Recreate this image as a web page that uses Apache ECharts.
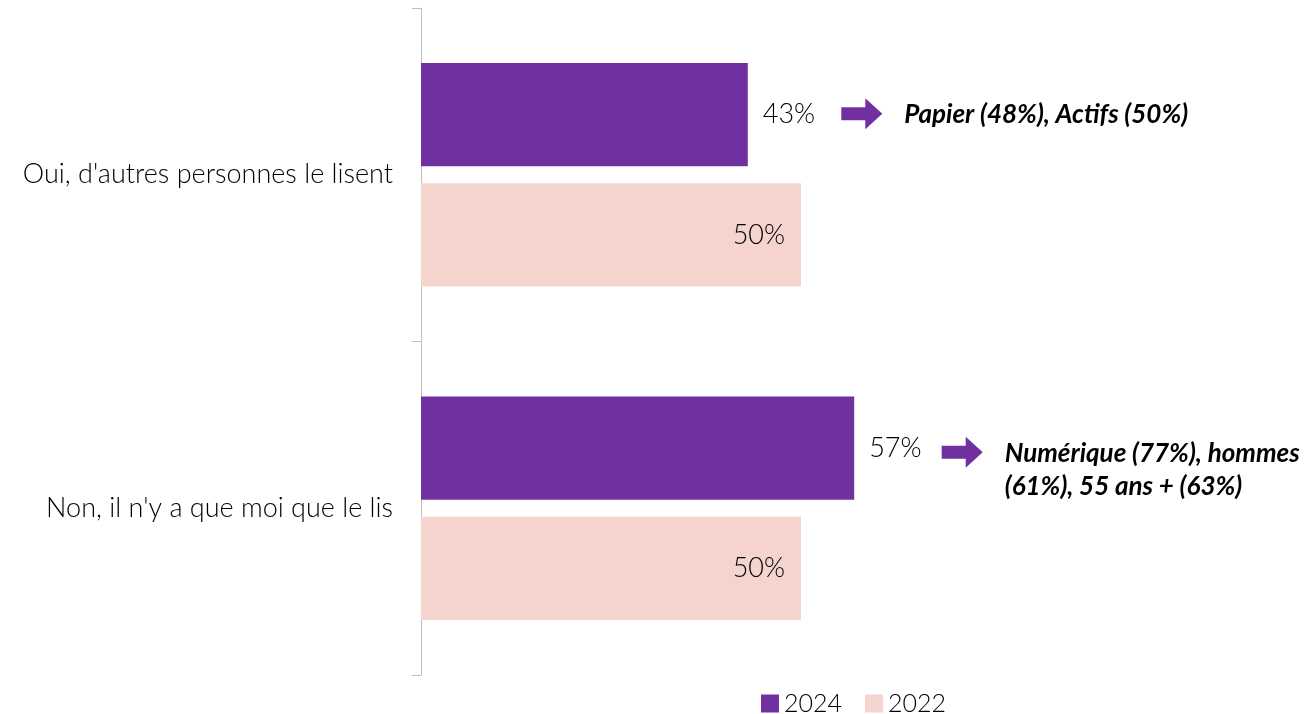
<!DOCTYPE html>
<html>
<head>
<meta charset="utf-8">
<script src="https://cdn.jsdelivr.net/npm/echarts@6/dist/echarts.min.js"></script>
<style>html,body{margin:0;padding:0;background:#fff}#c{width:1309px;height:714px}</style>
</head>
<body>
<div id="c"></div>
<script>
const categories = ["Oui, d'autres personnes le lisent", "Non, il n'y a que moi que le lis"];
const values2024 = [43, 57];
const values2022 = [50, 50];
const seriesNames = ["2024", "2022"];
const notes2024 = ["Papier (48%), Actifs (50%)", "Numérique (77%), hommes\n(61%), 55 ans + (63%)"];

const FONT = 'Lato';
const chart = echarts.init(document.getElementById('c'));
const arrowPath = 'path://M0,9 L24,9 L24,0 L41,15.5 L24,31 L24,22 L0,22 Z';
const noteLineHeight = 33;

chart.setOption({
  animation: false,
  backgroundColor: '#fff',
  textStyle: { fontFamily: FONT },
  grid: { left: 421, top: 8, width: 760, height: 667 },
  xAxis: { type: 'value', min: 0, max: 100, show: false },
  yAxis: {
    type: 'category', inverse: true, data: categories,
    axisLine: { show: true, lineStyle: { color: '#BFBFBF', width: 1 } },
    axisTick: { show: true, length: 9, lineStyle: { color: '#BFBFBF' } },
    axisLabel: { fontSize: 27, fontWeight: 300, color: '#000', margin: 28, fontFamily: FONT }
  },
  legend: {
    data: seriesNames, top: 686, left: 756, padding: 5, itemWidth: 18, itemHeight: 18, itemGap: 23,
    icon: 'rect',
    textStyle: { fontSize: 25, fontWeight: 300, color: '#000', fontFamily: FONT }
  },
  series: [
    {
      name: seriesNames[0], type: 'bar', data: values2024,
      barCategoryGap: '33%', barGap: '16.5%',
      itemStyle: { color: '#7030A0' },
      label: { show: true, position: 'right', distance: 15, formatter: '{c}%', fontSize: 27, fontWeight: 300, color: '#000', fontFamily: FONT },
      markPoint: {
        symbol: arrowPath, symbolSize: [41, 31], symbolKeepAspect: false,
        itemStyle: { color: '#7030A0' },
        data: values2024.map((v, i) => {
          const lines = notes2024[i].split('\n').length;
          return {
            coord: [v, i],
            symbolOffset: [i === 0 ? 114 : 108, i === 0 ? -1 : 4],
            label: {
              show: true, position: 'right', distance: 22, formatter: notes2024[i],
              offset: [0, (lines - 1) * noteLineHeight / 2 + (i === 0 ? 1 : 1)],
              fontSize: 26, fontWeight: 'bold', fontStyle: 'italic', color: '#000',
              lineHeight: noteLineHeight, fontFamily: FONT
            }
          };
        })
      }
    },
    {
      name: seriesNames[1], type: 'bar', data: values2022,
      itemStyle: { color: '#F5D4CE' },
      label: { show: true, position: 'insideRight', distance: 16, formatter: '{c}%', fontSize: 27, fontWeight: 300, color: '#000', fontFamily: FONT }
    }
  ]
});
</script>
</body>
</html>
